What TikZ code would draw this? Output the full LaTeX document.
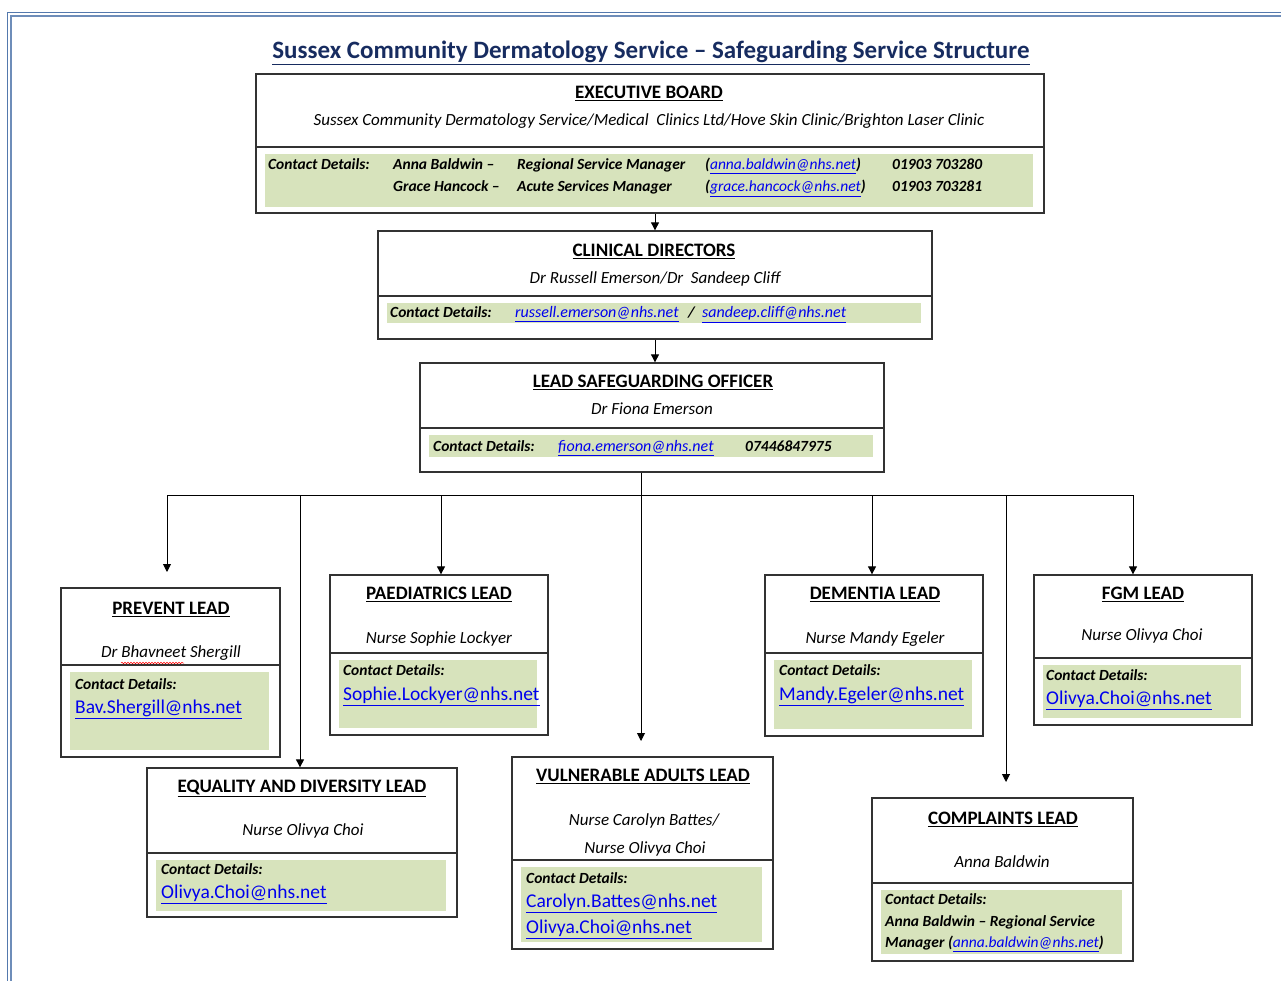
\documentclass[tikz,border=0pt]{standalone}
\usepackage{fontspec}
\setmainfont{Carlito}
\usetikzlibrary{arrows.meta,decorations.pathmorphing}
\definecolor{pageframe}{RGB}{84,121,173}
\definecolor{titleblue}{RGB}{23,44,96}
\definecolor{contactgreen}{RGB}{215,227,188}
\definecolor{linkblue}{RGB}{0,0,238}
\definecolor{boxgrey}{RGB}{50,50,50}
\newcommand\maillink[1]{\textcolor{linkblue}{\underline{#1}}}
\begin{document}
\begin{tikzpicture}[x=1pt,y=-1pt,
	head/.style={font=\fontsize{19}{22}\selectfont\bfseries,anchor=mid,inner sep=0pt},
	who/.style={font=\fontsize{17}{20}\selectfont\itshape,anchor=mid,inner sep=0pt},
	cdet/.style={font=\fontsize{15.5}{18}\selectfont\bfseries\itshape,anchor=mid west,inner sep=0pt},
	slink/.style={font=\fontsize{16}{18}\selectfont\itshape,anchor=mid west,inner sep=0pt},
	mail/.style={font=\fontsize{19.5}{22}\selectfont,anchor=mid west,inner sep=0pt},
	unitbox/.style={draw=boxgrey,line width=1.3pt,inner sep=0pt},
	wire/.style={line width=0.9pt},
	feed/.style={wire,-{Triangle[width=8pt,length=8pt]}}]
	\useasboundingbox (0,0) rectangle (1281,981);
	% page frame
	\draw[pageframe,line width=0.8pt] (7.5,1000) -- (7.5,12.5) -- (1300,12.5);
	\draw[pageframe!85,line width=1.8pt] (11,1000) -- (11,16) -- (1300,16);
	\node[font=\fontsize{25}{29}\selectfont\bfseries,text=titleblue,anchor=base,inner sep=0pt]
		(title) at (651,59) {\underline{Sussex Community Dermatology Service -- Safeguarding Service Structure}};
	% boxes: name / left / top / right / bottom / separator / green bottom
	\foreach \nm/\xa/\ya/\xb/\yb/\sy/\gb in
		{exec/256/74/1044/213/147/207, clin/378/231/932/339/296/323, lso/420/363/884/472/428/457,
		prevent/61/588/280/757/665/750, paed/330/575/548/735/653/728, equal/147/768/457/917/853/911,
		vuln/512/757/773/949/860/942, dement/765/575/983/736/653/729, fgm/1034/575/1252/725/658/718,
		compl/872/798/1133/961/883/954}
	{
		\fill[contactgreen] (\xa+9,\sy+7) rectangle (\xb-11,\gb);
		\draw[boxgrey,line width=1.3pt] (\xa,\sy) -- (\xb,\sy);
		\node[unitbox,minimum width={\xb-\xa},minimum height={\yb-\ya}] (\nm) at ({(\xa+\xb)/2},{(\ya+\yb)/2}) {};
	}
	\begin{scope}[shift={(0,2.5)}]
	% executive board
	\node[head] (exec-t) at (649,94) {\underline{EXECUTIVE BOARD}};
	\node[who] (exec-w) at (649,121) {Sussex Community Dermatology Service/Medical\ \ Clinics Ltd/Hove Skin Clinic/Brighton Laser Clinic};
	\node[cdet] (exec-c) at (268,165) {Contact Details:};
	\node[cdet] (exec-n1) at (393,165) {Anna Baldwin --};
	\node[cdet] (exec-r1) at (517,165) {Regional Service Manager};
	\node[cdet] (exec-m1) at (705,165) {(\maillink{\mdseries anna.baldwin@nhs.net})};
	\node[cdet] (exec-p1) at (892,165) {01903 703280};
	\node[cdet] (exec-n2) at (393,187) {Grace Hancock --};
	\node[cdet] (exec-r2) at (517,187) {Acute Services Manager};
	\node[cdet] (exec-m2) at (705,187) {(\maillink{\mdseries grace.hancock@nhs.net})};
	\node[cdet] (exec-p2) at (892,187) {01903 703281};
	% clinical directors
	\node[head] (clin-t) at (654,252) {\underline{CLINICAL DIRECTORS}};
	\node[who] (clin-w) at (655,279) {Dr Russell Emerson/Dr\ \ Sandeep Cliff};
	\node[cdet] (clin-c) at (390,313) {Contact Details:};
	\node[slink] (clin-m1) at (515,313) {\maillink{russell.emerson@nhs.net}};
	\node[cdet] (clin-s) at (688,313) {/};
	\node[slink] (clin-m2) at (702,313) {\maillink{sandeep.cliff@nhs.net}};
	% lead safeguarding officer
	\node[head] (lso-t) at (653,383) {\underline{LEAD SAFEGUARDING OFFICER}};
	\node[who] (lso-w) at (652,410) {Dr Fiona Emerson};
	\node[cdet] (lso-c) at (433,447) {Contact Details:};
	\node[slink] (lso-m) at (558,447) {\maillink{fiona.emerson@nhs.net}};
	\node[cdet] (lso-p) at (745,447) {07446847975};
	% prevent
	\node[head] (prevent-t) at (171,610) {\underline{PREVENT LEAD}};
	\node[who] (prevent-w) at (171,653) {Dr Bhavneet Shergill};
	\draw[red,line width=0.5pt,decorate,decoration={snake,amplitude=0.8pt,segment length=3pt}] (121,660.5) -- (184,660.5);
	\node[cdet] (prevent-c) at (75,685) {Contact Details:};
	\node[mail] (prevent-m) at (75,709) {\maillink{Bav.Shergill@nhs.net}};
	% paediatrics
	\node[head] (paed-t) at (439,595) {\underline{PAEDIATRICS LEAD}};
	\node[who] (paed-w) at (439,639) {Nurse Sophie Lockyer};
	\node[cdet] (paed-c) at (343,671) {Contact Details:};
	\node[mail] (paed-m) at (343,696) {\maillink{Sophie.Lockyer@nhs.net}};
	% equality and diversity
	\node[head] (equal-t) at (302,788) {\underline{EQUALITY AND DIVERSITY LEAD}};
	\node[who] (equal-w) at (303,831) {Nurse Olivya Choi};
	\node[cdet] (equal-c) at (161,870) {Contact Details:};
	\node[mail] (equal-m) at (161,894) {\maillink{Olivya.Choi@nhs.net}};
	% vulnerable adults
	\node[head] (vuln-t) at (643,777) {\underline{VULNERABLE ADULTS LEAD}};
	\node[who] (vuln-w1) at (644,821) {Nurse Carolyn Battes/};
	\node[who] (vuln-w2) at (645,849) {Nurse Olivya Choi};
	\node[cdet] (vuln-c) at (526,879) {Contact Details:};
	\node[mail] (vuln-m1) at (526,903) {\maillink{Carolyn.Battes@nhs.net}};
	\node[mail] (vuln-m2) at (526,929) {\maillink{Olivya.Choi@nhs.net}};
	% dementia
	\node[head] (dement-t) at (875,595) {\underline{DEMENTIA LEAD}};
	\node[who] (dement-w) at (875,639) {Nurse Mandy Egeler};
	\node[cdet] (dement-c) at (779,671) {Contact Details:};
	\node[mail] (dement-m) at (779,696) {\maillink{Mandy.Egeler@nhs.net}};
	% fgm
	\node[head] (fgm-t) at (1143,595) {\underline{FGM LEAD}};
	\node[who] (fgm-w) at (1142,636) {Nurse Olivya Choi};
	\node[cdet] (fgm-c) at (1046,676) {Contact Details:};
	\node[mail] (fgm-m) at (1046,700) {\maillink{Olivya.Choi@nhs.net}};
	% complaints
	\node[head] (compl-t) at (1003,820) {\underline{COMPLAINTS LEAD}};
	\node[who] (compl-w) at (1002,863) {Anna Baldwin};
	\node[cdet] (compl-c) at (885,900) {Contact Details:};
	\node[cdet] (compl-l1) at (885,922) {Anna Baldwin -- Regional Service};
	\node[cdet] (compl-l2) at (885,943) {Manager (\maillink{\mdseries anna.baldwin@nhs.net})};
	\end{scope}
	% connectors
	\coordinate (bus) at (641,495);
	\coordinate (bus-west) at (167,495);
	\coordinate (bus-east) at (1133,495);
	\coordinate (prevent-in) at (167,572);
	\coordinate (vuln-in) at (641,741);
	\coordinate (compl-in) at (1006,782);
	\draw[feed] (exec.south -| clin.north) -- (clin.north);
	\draw[feed] (clin.south) -- (clin.south |- lso.north);
	\draw[wire] (bus-west) -- (bus-east);
	\draw[feed] (lso.south -| bus) -- (vuln-in);
	\draw[feed] (bus-west) -- (prevent-in);
	\foreach \x/\nm in {300/equal, 441/paed, 872/dement, 1133/fgm}
		\draw[feed] (\x,495) -- (\x,0 |- \nm.north);
	\draw[feed] (compl-in |- bus) -- (compl-in);
\end{tikzpicture}
\end{document}
